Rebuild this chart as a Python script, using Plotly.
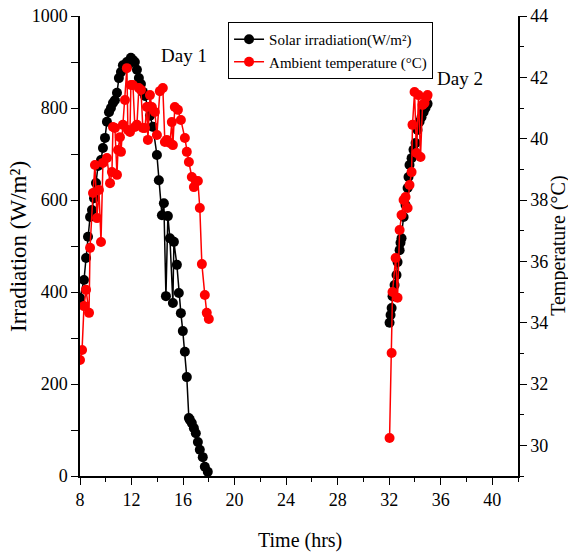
import plotly.graph_objects as go

# Day 1 solar irradiation
t_irr_d1 = [8.00, 8.31, 8.47, 8.62, 8.78, 8.93, 9.09, 9.24, 9.40, 9.63, 9.78, 9.94, 10.09, 10.25, 10.40,
            10.56, 10.71, 10.87, 11.02, 11.18, 11.33, 11.49, 11.64, 11.80, 11.95, 12.11, 12.26, 12.42, 12.57,
            12.73, 12.88, 13.04, 13.27, 13.43, 13.66, 13.97, 14.12, 14.36, 14.51, 14.67, 14.82, 14.98, 15.21,
            15.29, 15.52, 15.67, 15.83, 15.98, 16.14, 16.29, 16.45, 16.53, 16.68, 16.84, 16.99, 17.15, 17.30,
            17.53, 17.69, 17.92]
irr_d1 = [387, 426, 474, 520, 563, 578, 604, 637, 674, 687, 713, 735, 770, 791, 800, 811, 817, 833, 865, 878,
          893, 889, 900, 896, 909, 904, 900, 883, 865, 852, 835, 826, 802, 783, 759, 698, 643, 567, 593, 391,
          565, 517, 376, 509, 459, 398, 354, 315, 270, 215, 126, 122, 115, 104, 93, 74, 57, 41, 20, 9]

# Day 2 solar irradiation
t_irr_d2 = [32.03, 32.11, 32.19, 32.26, 32.42, 32.57, 32.65, 32.81, 32.88, 32.96, 33.12, 33.27, 33.43, 33.50,
            33.58, 33.74, 33.89, 34.05, 34.20, 34.36, 34.51, 34.67, 34.82, 34.98]
irr_d2 = [333, 350, 365, 391, 415, 437, 465, 491, 507, 517, 563, 589, 626, 650, 676, 691, 709, 724, 752, 770,
          780, 791, 800, 809]

# Day 1 ambient temperature
t_tmp_d1 = [8.00, 8.16, 8.31, 8.47, 8.70, 8.78, 9.01, 9.16, 9.32, 9.47, 9.63, 9.78, 10.09, 10.33, 10.48, 10.56,
            10.71, 10.87, 10.95, 11.10, 11.18, 11.33, 11.49, 11.64, 11.72, 11.88, 11.95, 12.11, 12.26, 12.42,
            12.57, 12.73, 12.88, 13.04, 13.19, 13.27, 13.43, 13.58, 13.81, 13.97, 14.20, 14.43, 14.59, 14.74,
            14.98, 15.13, 15.21, 15.36, 15.60, 15.83, 16.14, 16.29, 16.45, 16.68, 16.84, 16.99, 17.15, 17.30,
            17.46, 17.69, 17.84, 18.00]
tmp_d1 = [32.78, 33.11, 34.54, 35.07, 34.32, 36.44, 38.23, 39.14, 37.41, 38.33, 36.63, 39.21, 39.37, 38.55,
          38.91, 40.38, 40.35, 38.82, 39.63, 40.05, 39.57, 40.45, 41.26, 42.30, 40.28, 40.22, 41.75, 41.75,
          40.38, 40.45, 41.65, 41.59, 40.35, 40.35, 41.03, 39.96, 41.42, 41.03, 40.87, 40.12, 41.55, 41.65,
          39.89, 39.96, 39.86, 40.54, 39.79, 41.03, 40.94, 40.61, 40.02, 39.57, 39.24, 38.75, 38.42, 38.62,
          38.62, 37.74, 35.91, 34.90, 34.32, 34.12]

# Day 2 ambient temperature
t_tmp_d2 = [32.03, 32.19, 32.26, 32.50, 32.65, 32.81, 32.96, 33.12, 33.27, 33.43, 33.58, 33.74, 33.81, 33.97,
            34.12, 34.28, 34.43, 34.59, 34.74, 34.90, 34.98]
tmp_d2 = [30.24, 33.01, 35.00, 36.11, 34.81, 37.02, 37.51, 38.00, 38.10, 37.74, 38.49, 38.91, 40.45, 41.52,
          39.53, 41.42, 39.40, 41.10, 41.16, 41.36, 41.42]

x_ticks = [8, 12, 16, 20, 24, 28, 32, 36, 40]
y_ticks = [0, 200, 400, 600, 800, 1000]
y2_ticks = [30, 32, 34, 36, 38, 40, 42, 44]

FONT = "Times New Roman"

def f(size):
    return dict(family=FONT, size=size, color="black")

fig = go.Figure()
fig.add_trace(go.Scatter(x=t_irr_d1, y=irr_d1, mode="lines+markers", name="Solar irradiation(W/m²)",
                         legendgroup="irr", line=dict(color="black", width=1.5),
                         marker=dict(color="black", size=10)))
fig.add_trace(go.Scatter(x=t_irr_d2, y=irr_d2, mode="lines+markers", name="Solar irradiation(W/m²)",
                         legendgroup="irr", showlegend=False, line=dict(color="black", width=1.5),
                         marker=dict(color="black", size=10)))
fig.add_trace(go.Scatter(x=t_tmp_d1, y=tmp_d1, mode="lines+markers", name="Ambient temperature (°C)",
                         legendgroup="tmp", yaxis="y2", line=dict(color="red", width=1.5),
                         marker=dict(color="red", size=10)))
fig.add_trace(go.Scatter(x=t_tmp_d2, y=tmp_d2, mode="lines+markers", name="Ambient temperature (°C)",
                         legendgroup="tmp", showlegend=False, yaxis="y2", line=dict(color="red", width=1.5),
                         marker=dict(color="red", size=10)))

fig.update_layout(
    width=568, height=556,
    margin=dict(l=80, r=50, t=16, b=80, autoexpand=False),
    paper_bgcolor="white", plot_bgcolor="white",
    font=f(18),
    showlegend=True,
    legend=dict(x=0.338, y=0.987, xanchor="left", yanchor="top", bordercolor="black", borderwidth=1,
                bgcolor="white", font=f(15), tracegroupgap=0, itemwidth=30),
    xaxis=dict(range=[8, 42], tickvals=x_ticks, showgrid=False, zeroline=False,
               automargin=False, ticklabeloverflow="allow",
               showline=True, linecolor="black", linewidth=1.5, ticks="outside", ticklen=7, tickwidth=1.2,
               tickcolor="black",
               minor=dict(dtick=2, tick0=8, ticks="outside", ticklen=4, tickcolor="black"),
               tickfont=f(18)),
    xaxis2=dict(range=[8, 42], overlaying="x", side="top", showticklabels=False, showgrid=False,
                automargin=False,
                zeroline=False, showline=True, linecolor="black", linewidth=1.5, ticks="inside", ticklen=5,
                tickcolor="black", dtick=2, tick0=8),
    yaxis=dict(range=[0, 1000], tickvals=y_ticks, showgrid=False, zeroline=False,
               automargin=False, ticklabeloverflow="allow",
               showline=True, linecolor="black", linewidth=1.5, ticks="outside", ticklen=7, tickcolor="black",
               minor=dict(dtick=100, ticks="outside", ticklen=7, tickcolor="black"),
               tickfont=f(18)),
    yaxis2=dict(range=[29, 44], overlaying="y", side="right", tickvals=y2_ticks,
                automargin=False, ticklabeloverflow="allow",
                showgrid=False, zeroline=False, showline=True, linecolor="black", linewidth=1.5,
                ticks="outside", ticklen=7, tickcolor="black",
                minor=dict(dtick=1, ticks="outside", ticklen=4, tickcolor="black"),
                tickfont=f(18)),
    annotations=[
        dict(x=16.1, y=915, xref="x", yref="y", text="Day 1", showarrow=False, font=f(19)),
        dict(x=37.5, y=865, xref="x", yref="y", text="Day 2", showarrow=False, font=f(19)),
        dict(x=-0.1416, y=0.5, xref="paper", yref="paper", text="Irradiation (W/m²)", textangle=-90,
             showarrow=False, font=f(23), xanchor="center", yanchor="middle"),
        dict(x=1.091, y=0.5, xref="paper", yref="paper", text="Temperature (°C)", textangle=-90,
             showarrow=False, font=f(20), xanchor="center", yanchor="middle"),
        dict(x=0.502, y=-0.141, xref="paper", yref="paper", text="Time (hrs)",
             showarrow=False, font=f(20), xanchor="center", yanchor="middle"),
    ],
)

fig.write_html("out.html", config={"displayModeBar": False},
               post_script="document.body.style.margin='0px';")
